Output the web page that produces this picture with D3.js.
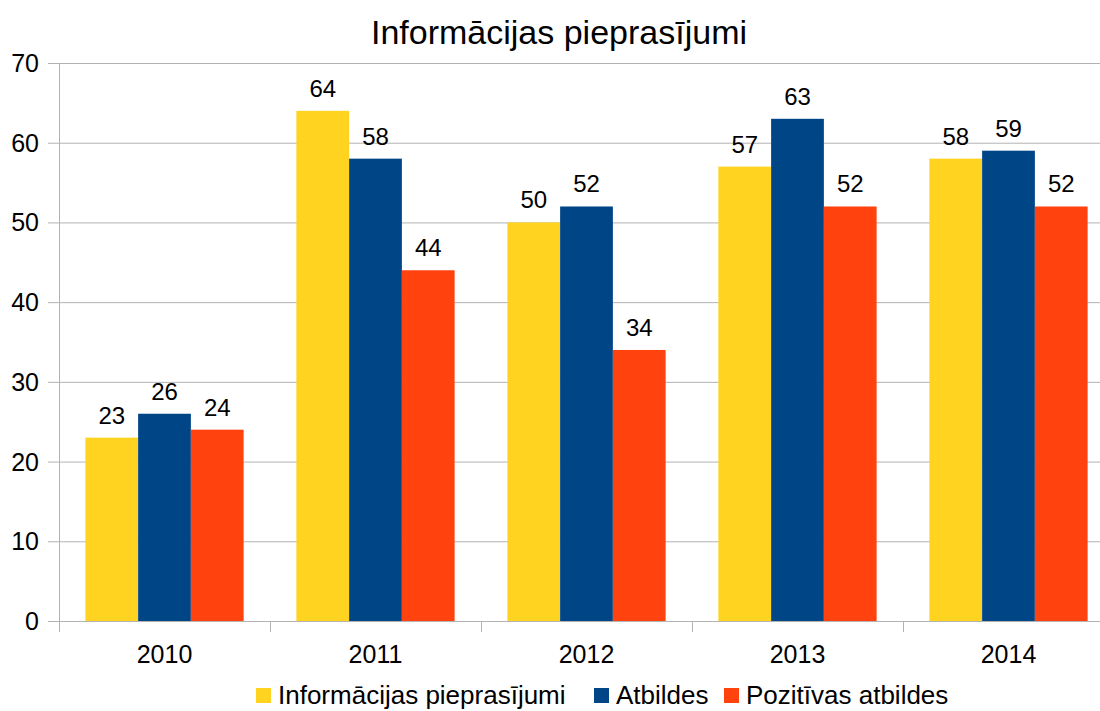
<!DOCTYPE html>
<html>
<head>
<meta charset="utf-8">
<title>Informācijas pieprasījumi</title>
<script src="https://cdn.jsdelivr.net/npm/d3@7"></script>
<style>
  body { margin: 0; background: #fff; }
  text { font-family: "Liberation Sans", Arial, sans-serif; fill: #000; }
</style>
</head>
<body>
<div id="chart"></div>
<script>
// data
var years = ['2010', '2011', '2012', '2013', '2014'];
var seriesNames = ['Informācijas pieprasījumi', 'Atbildes', 'Pozitīvas atbildes'];
var pieprasijumi = [23, 64, 50, 57, 58];
var atbildes = [26, 58, 52, 63, 59];
var pozitivas = [24, 44, 34, 52, 52];
var yTicks = [0, 10, 20, 30, 40, 50, 60, 70];
var colors = ['#ffd320', '#004586', '#ff420e'];

(function(d3) {
  'use strict';
  var series = [pieprasijumi, atbildes, pozitivas];

  var width = 1100, height = 711;
  var plotLeft = 59, plotRight = 1114, plotTop = 63, plotBottom = 621;

  var svg = d3.select('#chart').append('svg')
    .attr('width', width)
    .attr('height', height);

  var x0 = d3.scaleBand()
    .domain(years)
    .range([plotLeft, plotRight])
    .paddingInner(0.25)
    .paddingOuter(0.125);

  var x1 = d3.scaleBand()
    .domain(d3.range(series.length))
    .range([0, x0.bandwidth()]);

  var y = d3.scaleLinear()
    .domain([0, 70])
    .range([plotBottom, plotTop]);

  var step = x0.step();

  // gridlines + y tick marks
  svg.append('g').selectAll('line')
    .data(yTicks)
    .enter().append('line')
    .attr('x1', plotLeft - 11)
    .attr('x2', plotRight)
    .attr('y1', function(d) { return y(d) + 0.5; })
    .attr('y2', function(d) { return y(d) + 0.5; })
    .attr('stroke', '#b3b3b3')
    .attr('stroke-width', 1);

  // y axis line
  svg.append('line')
    .attr('x1', plotLeft + 0.5).attr('x2', plotLeft + 0.5)
    .attr('y1', y(70)).attr('y2', plotBottom + 11)
    .attr('stroke', '#b3b3b3');

  // category tick marks
  var boundaries = years.map(function(d) { return x0(d) - step * 0.125; });
  boundaries.push(boundaries[boundaries.length - 1] + step);
  svg.append('g').selectAll('line')
    .data(boundaries)
    .enter().append('line')
    .attr('x1', function(d) { return d + 0.5; })
    .attr('x2', function(d) { return d + 0.5; })
    .attr('y1', plotBottom)
    .attr('y2', plotBottom + 11)
    .attr('stroke', '#b3b3b3');

  // y labels
  svg.append('g').selectAll('text')
    .data(yTicks)
    .enter().append('text')
    .attr('x', 39)
    .attr('y', function(d) { return y(d) + 9; })
    .attr('text-anchor', 'end')
    .style('font-size', '25px')
    .text(function(d) { return d; });

  // x labels
  svg.append('g').selectAll('text')
    .data(years)
    .enter().append('text')
    .attr('x', function(d) { return x0(d) + x0.bandwidth() / 2; })
    .attr('y', 663)
    .attr('text-anchor', 'middle')
    .style('font-size', '25px')
    .text(function(d) { return d; });

  // bars
  var groups = svg.append('g').selectAll('g')
    .data(years)
    .enter().append('g')
    .attr('transform', function(d) { return 'translate(' + x0(d) + ',0)'; });

  function cells(d, i) {
    return series.map(function(s, j) { return { s: j, v: s[i] }; });
  }

  groups.selectAll('rect')
    .data(cells)
    .enter().append('rect')
    .attr('x', function(d) { return x1(d.s); })
    .attr('width', x1.bandwidth())
    .attr('y', function(d) { return y(d.v); })
    .attr('height', function(d) { return plotBottom - y(d.v); })
    .attr('fill', function(d) { return colors[d.s]; });

  groups.selectAll('text')
    .data(cells)
    .enter().append('text')
    .attr('x', function(d) { return x1(d.s) + x1.bandwidth() / 2; })
    .attr('y', function(d) { return y(d.v) - 14; })
    .attr('text-anchor', 'middle')
    .style('font-size', '24px')
    .text(function(d) { return d.v; });

  // title
  svg.append('text')
    .attr('x', 559)
    .attr('y', 44)
    .attr('text-anchor', 'middle')
    .style('font-size', '34px')
    .text('Informācijas pieprasījumi');

  // legend
  var legendX = [256, 594, 724];
  var legend = svg.append('g').selectAll('g')
    .data(seriesNames)
    .enter().append('g')
    .attr('transform', function(d, i) { return 'translate(' + legendX[i] + ',0)'; });
  legend.append('rect')
    .attr('x', 0).attr('y', 688)
    .attr('width', 15).attr('height', 15)
    .attr('fill', function(d, i) { return colors[i]; });
  legend.append('text')
    .attr('x', 22)
    .attr('y', 704)
    .style('font-size', '26px')
    .text(function(d) { return d; });
})(window.d3);
</script>
</body>
</html>
